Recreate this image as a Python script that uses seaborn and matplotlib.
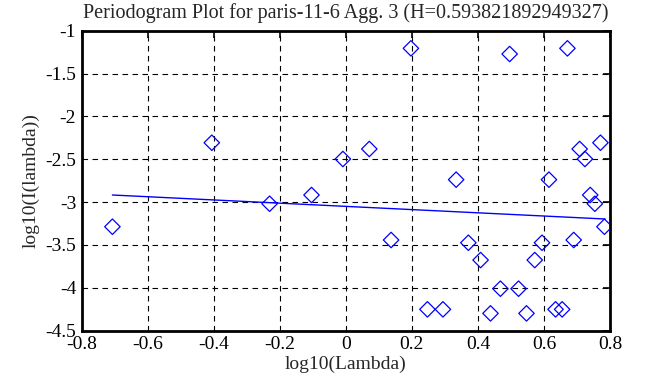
import matplotlib
matplotlib.use('Agg')
import matplotlib.pyplot as plt
import matplotlib.ticker as mticker
import seaborn as sns
import pandas as pd

# periodogram points (log10 lambda, log10 I(lambda))
log_lambda = [-0.707, -0.406, -0.231, -0.104, -0.009, 0.071, 0.197, 0.137,
              0.247, 0.294, 0.334, 0.371, 0.408, 0.438, 0.468, 0.496,
              0.523, 0.547, 0.572, 0.594, 0.615, 0.635, 0.655, 0.671,
              0.690, 0.708, 0.724, 0.740, 0.754, 0.771, 0.783]
log_I = [-3.287, -2.307, -3.019, -2.917, -2.497, -2.380, -1.206, -3.442,
         -4.251, -4.251, -2.738, -3.474, -3.676, -4.298, -4.010, -1.272,
         -4.010, -4.298, -3.676, -3.474, -2.738, -4.251, -4.251, -1.206,
         -3.442, -2.380, -2.497, -2.917, -3.019, -2.307, -3.287]

# fitted regression line endpoints
fit_x = [-0.707, 0.785]
fit_y = [-2.917, -3.197]

x_ticks = [-0.8, -0.6, -0.4, -0.2, 0, 0.2, 0.4, 0.6, 0.8]
y_ticks = [-1, -1.5, -2, -2.5, -3, -3.5, -4, -4.5]

sns.set_theme(style="white")
plt.rcParams['font.family'] = ['Liberation Serif', 'DejaVu Serif']

df = pd.DataFrame({'x': log_lambda, 'y': log_I})
fit = pd.DataFrame({'x': fit_x, 'y': fit_y})

fig = plt.figure(figsize=(6.53, 3.87), dpi=100)
ax = fig.add_axes([0.1251, 0.1455, 0.8091, 0.7752])

sns.scatterplot(data=df, x='x', y='y', marker='D', s=62, facecolor='none',
                edgecolor='#0000ff', linewidth=0.9, ax=ax, zorder=3)
sns.lineplot(data=fit, x='x', y='y', color='#0000ff', linewidth=1.0, ax=ax, zorder=2)

ax.set_xlim(-0.8, 0.8)
ax.set_ylim(-4.5, -1)
ax.set_xticks(x_ticks)
ax.set_yticks(y_ticks)
ax.xaxis.set_major_formatter(mticker.FormatStrFormatter('%g'))
ax.yaxis.set_major_formatter(mticker.FormatStrFormatter('%g'))
ax.grid(True, color='black', linestyle=(0, (5, 4)), linewidth=0.8)
ax.tick_params(direction='in', length=5, width=1.2, colors='black',
               labelsize=14, top=True, right=True, pad=4)
for sp in ax.spines.values():
    sp.set_color('black')
    sp.set_linewidth(2)

ax.set_title('Periodogram Plot for paris-11-6 Agg. 3 (H=0.593821892949327)',
             fontsize=14.5, pad=9)
ax.set_xlabel('log10(Lambda)', fontsize=14, labelpad=2)
ax.set_ylabel('log10(I(lambda))', fontsize=14, labelpad=4)

fig.savefig('out.png', dpi=100)
